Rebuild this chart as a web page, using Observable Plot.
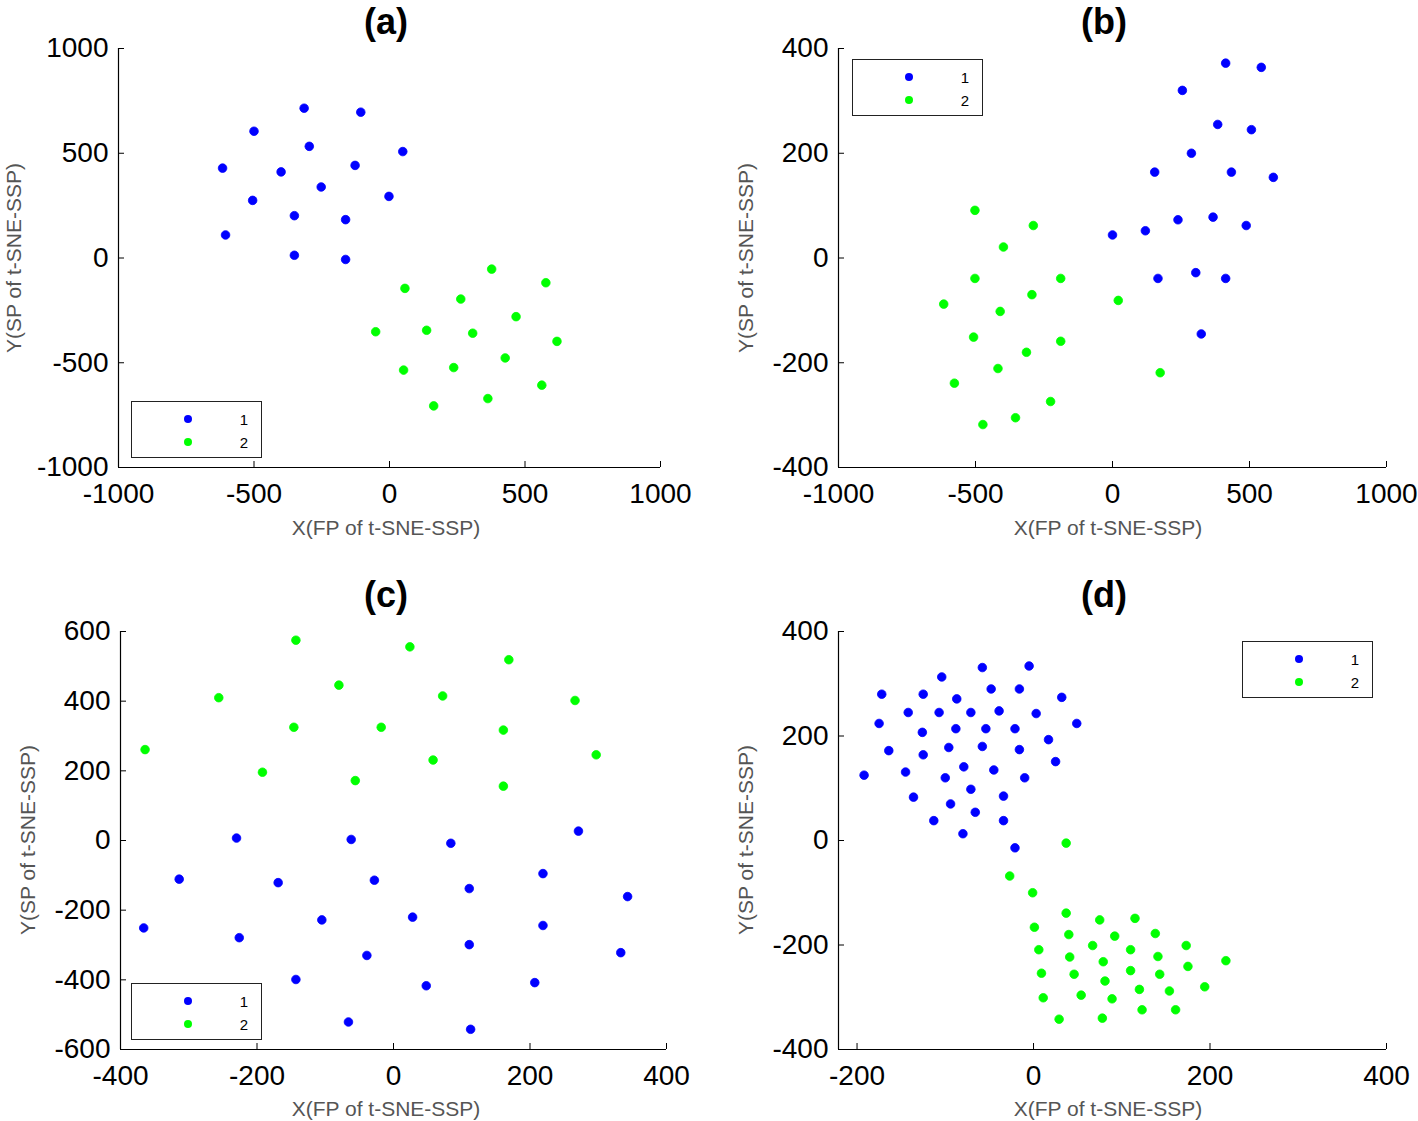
<!DOCTYPE html>
<html><head><meta charset="utf-8">
<script src="https://cdn.jsdelivr.net/npm/d3@7"></script>
<script src="https://cdn.jsdelivr.net/npm/@observablehq/plot@0.6"></script>
<style>
body{margin:0;background:#fff;}
#root{position:relative;width:1418px;height:1121px;font-family:"Liberation Sans",Arial,sans-serif;overflow:hidden;background:#fff}
.panel{position:absolute}
.title{position:absolute;font-weight:bold;font-size:36px;transform:translate(-50%,-50%);white-space:nowrap;line-height:1}
.xlab{position:absolute;font-size:21px;color:#555;transform:translate(-50%,-50%);white-space:nowrap;line-height:1}
.ylab{position:absolute;font-size:21px;color:#555;transform:translate(-50%,-50%) rotate(-90deg);white-space:nowrap;line-height:1}
.legend{position:absolute;border:1.5px solid #222;background:#fff;box-sizing:border-box;width:131px;height:57px}
.lm{position:absolute;width:8px;height:8px;border-radius:50%;transform:translate(-50%,-50%)}
.ll{position:absolute;font-size:15px;transform:translate(-50%,-50%);line-height:1}
</style></head>
<body><div id="root"></div>
<script>
// ---------- data ----------
const seriesNames = ["1", "2"];
const seriesColors = ["#0000ff", "#00ff00"];

// Panel (a)
const a_x_ticks = [-1000, -500, 0, 500, 1000];
const a_y_ticks = [-1000, -500, 0, 500, 1000];
const a_c1 = [[-315,715],[-106,696],[-500,605],[-296,533],[49,508],[-616,429],[-400,411],[-127,442],[-252,339],[-2,294],[-505,275],[-351,202],[-162,183],[-605,110],[-351,13],[-162,-7]];
const a_c2 = [[377,-53],[577,-118],[57,-145],[263,-196],[467,-280],[-51,-352],[137,-345],[307,-359],[618,-398],[427,-477],[52,-535],[237,-523],[562,-607],[363,-671],[163,-706]];

// Panel (b)
const b_x_ticks = [-1000, -500, 0, 500, 1000];
const b_y_ticks = [-400, -200, 0, 200, 400];
const b_c1 = [[413,372],[543,364],[255,320],[384,255],[507,245],[288,200],[154,164],[434,164],[587,154],[239,73],[367,78],[488,62],[0,44],[120,52],[166,-39],[304,-28],[413,-39],[324,-145]];
const b_c2 = [[-502,91],[-289,62],[-398,21],[-502,-39],[-189,-39],[-294,-70],[-616,-88],[-410,-102],[21,-81],[-507,-151],[-189,-159],[-314,-180],[-418,-211],[-577,-239],[174,-219],[-226,-274],[-354,-305],[-473,-318]];

// Panel (c)
const c_x_ticks = [-400, -200, 0, 200, 400];
const c_y_ticks = [-600, -400, -200, 0, 200, 400, 600];
const c_c1 = [[-230,7],[-62,3],[84,-8],[271,27],[-314,-111],[-169,-121],[-28,-114],[111,-138],[219,-95],[343,-161],[-366,-251],[-105,-228],[28,-220],[219,-244],[-226,-279],[-39,-330],[111,-299],[333,-322],[-143,-399],[48,-417],[207,-408],[-66,-521],[113,-542]];
const c_c2 = [[-143,575],[24,556],[169,519],[-80,446],[-256,410],[72,415],[266,402],[-146,325],[-18,325],[161,317],[-364,261],[58,231],[297,246],[-192,196],[-56,172],[161,156]];

// Panel (d)
const d_x_ticks = [-200, 0, 200, 400];
const d_y_ticks = [-400, -200, 0, 200, 400];
const d_c1 = [[-58,331],[-5,334],[-104,313],[-172,280],[-125,280],[-48,290],[-16,290],[32,274],[-87,271],[-142,245],[-107,245],[-71,245],[-39,248],[3,243],[-175,224],[49,224],[-88,214],[-54,214],[-21,214],[-126,207],[17,193],[-164,172],[-96,178],[-58,180],[-16,174],[-125,164],[25,151],[-79,141],[-45,135],[-145,131],[-192,125],[-100,120],[-10,120],[-71,98],[-34,85],[-136,83],[-94,70],[-66,54],[-34,38],[-113,38],[-80,13],[-21,-14]];
const d_c2 = [[37,-5],[-27,-68],[-1,-100],[37,-139],[75,-152],[115,-149],[1,-166],[40,-180],[92,-183],[138,-178],[67,-201],[173,-201],[6,-209],[110,-209],[41,-223],[141,-222],[79,-232],[218,-230],[175,-241],[9,-254],[46,-256],[110,-249],[143,-256],[81,-269],[120,-285],[154,-288],[194,-280],[11,-301],[54,-296],[89,-303],[123,-324],[161,-324],[29,-342],[78,-340]];

const titles = ["(a)", "(b)", "(c)", "(d)"];
const xLabel = "X(FP of t-SNE-SSP)";
const yLabel = "Y(SP of t-SNE-SSP)";

// ---------- layout ----------
const root = document.getElementById("root");
const W = 709, H = 560;

const panels = [
  {title: titles[0], left: 0, top: 0, xDomain: [-1000, 1000], yDomain: [-1000, 1000], xt: a_x_ticks, yt: a_y_ticks, c1: a_c1, c2: a_c2,
   m: {l: 118, r: 49, t: 48, b: 93}, titlePos: [386, 22], xlabPos: [386, 527], ylabPos: [13, 258], legend: [131, 401]},
  {title: titles[1], left: 709, top: 0, xDomain: [-1000, 1000], yDomain: [-400, 400], xt: b_x_ticks, yt: b_y_ticks, c1: b_c1, c2: b_c2,
   m: {l: 129, r: 32, t: 48, b: 93}, titlePos: [1104, 22], xlabPos: [1108, 527], ylabPos: [745, 258], legend: [852, 59]},
  {title: titles[2], left: 0, top: 561, xDomain: [-400, 400], yDomain: [-600, 600], xt: c_x_ticks, yt: c_y_ticks, c1: c_c1, c2: c_c2,
   m: {l: 120, r: 43, t: 70, b: 72}, titlePos: [386, 595], xlabPos: [386, 1108], ylabPos: [27, 840], legend: [131, 983]},
  {title: titles[3], left: 709, top: 561, xDomain: [-221, 400], yDomain: [-400, 400], xt: d_x_ticks, yt: d_y_ticks, c1: d_c1, c2: d_c2,
   m: {l: 129, r: 32, t: 70, b: 72}, titlePos: [1104, 595], xlabPos: [1108, 1108], ylabPos: [745, 840], legend: [1242, 641]}
];

for (const p of panels) {
  const innerW = W - p.m.l - p.m.r, innerH = H - p.m.t - p.m.b;
  const pts = [
    ...p.c1.map(([x, y]) => ({x, y, s: seriesNames[0]})),
    ...p.c2.map(([x, y]) => ({x, y, s: seriesNames[1]}))
  ];
  const chart = Plot.plot({
    width: W, height: H,
    marginLeft: p.m.l, marginRight: p.m.r, marginTop: p.m.t, marginBottom: p.m.b,
    style: {fontFamily: "'Liberation Sans', Arial, sans-serif", color: "#000", background: "transparent", overflow: "visible"},
    x: {domain: p.xDomain},
    y: {domain: p.yDomain},
    color: {domain: seriesNames, range: seriesColors},
    marks: [
      Plot.axisX(p.xt, {tickSize: 0, tickPadding: 16, fontSize: 28, label: null, tickFormat: d => String(d)}),
      Plot.axisY(p.yt, {tickSize: 0, tickPadding: 10, fontSize: 28, label: null, tickFormat: d => String(d)}),
      Plot.tickX(p.xt, {x: d => d, insetTop: innerH - 6, stroke: "#000", strokeWidth: 1}),
      Plot.tickY(p.yt, {y: d => d, insetRight: innerW - 6, stroke: "#000", strokeWidth: 1}),
      Plot.ruleX([p.xDomain[0]], {stroke: "#000", strokeWidth: 1.2}),
      Plot.ruleY([p.yDomain[0]], {stroke: "#000", strokeWidth: 1.2}),
      Plot.dot(pts, {x: "x", y: "y", r: 4.3, fill: "s", stroke: "s", strokeWidth: 0.8})
    ]
  });
  const wrap = document.createElement("div");
  wrap.className = "panel";
  wrap.style.left = p.left + "px";
  wrap.style.top = p.top + "px";
  wrap.appendChild(chart);
  root.appendChild(wrap);

  const t = document.createElement("div");
  t.className = "title"; t.textContent = p.title;
  t.style.left = p.titlePos[0] + "px"; t.style.top = p.titlePos[1] + "px";
  root.appendChild(t);

  const xl = document.createElement("div");
  xl.className = "xlab"; xl.textContent = xLabel;
  xl.style.left = p.xlabPos[0] + "px"; xl.style.top = p.xlabPos[1] + "px";
  root.appendChild(xl);

  const yl = document.createElement("div");
  yl.className = "ylab"; yl.textContent = yLabel;
  yl.style.left = p.ylabPos[0] + "px"; yl.style.top = p.ylabPos[1] + "px";
  root.appendChild(yl);

  const lg = document.createElement("div");
  lg.className = "legend";
  lg.style.left = p.legend[0] + "px"; lg.style.top = p.legend[1] + "px";
  seriesNames.forEach((name, i) => {
    const mk = document.createElement("div");
    mk.className = "lm";
    mk.style.background = seriesColors[i];
    mk.style.left = "56px"; mk.style.top = (17 + i * 22.5) + "px";
    lg.appendChild(mk);
    const lb = document.createElement("div");
    lb.className = "ll"; lb.textContent = name;
    lb.style.left = "112px"; lb.style.top = (17 + i * 22.5) + "px";
    lg.appendChild(lb);
  });
  root.appendChild(lg);
}
</script>
</body></html>
